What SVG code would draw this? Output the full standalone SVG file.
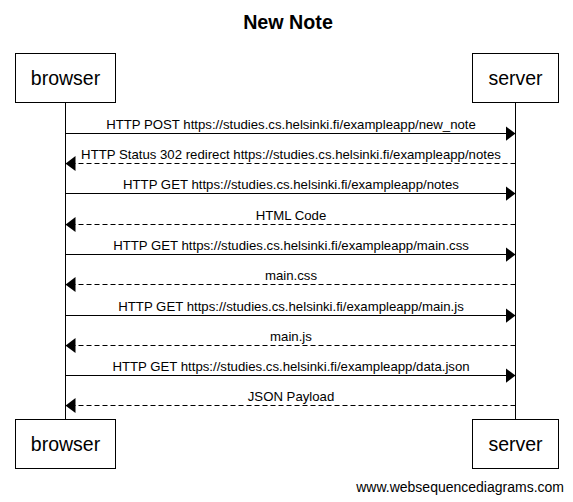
<svg xmlns="http://www.w3.org/2000/svg" width="573" height="502" viewBox="0 0 573 502">
<style>
text{font-family:"Liberation Sans",Arial,sans-serif;fill:#000}
.box{fill:#fff;stroke:#000;stroke-width:1}
.actor{font-size:19.5px;text-anchor:middle}
.lbl{font-size:13.2px;text-anchor:middle}
.life{stroke:#000;stroke-width:1}
.msg{stroke:#000;stroke-width:1;fill:none}
.dash{stroke-dasharray:5,3}
.title{font-size:19.7px;font-weight:bold;text-anchor:middle}
</style>
<defs>
<marker id="ah" markerWidth="10" markerHeight="15" refX="10" refY="7.5" orient="auto" markerUnits="userSpaceOnUse">
<path d="M0,0 L10,7.5 L0,15 Z" fill="#000"/>
</marker>
</defs>
<rect width="573" height="502" fill="#fff"/>
<text class="title" x="288" y="29">New Note</text>
<g id="lifelines">
<line class="life" x1="65.5" y1="103" x2="65.5" y2="419"/>
<line class="life" x1="515.5" y1="103" x2="515.5" y2="419"/>
</g>
<g id="browser-top"><rect class="box" x="15.5" y="53.5" width="100" height="49"/><text class="actor" x="65.5" y="85">browser</text></g>
<g id="server-top"><rect class="box" x="472.5" y="53.5" width="86" height="49"/><text class="actor" x="515.5" y="85">server</text></g>
<g id="browser-bottom"><rect class="box" x="15.5" y="419.5" width="100" height="49"/><text class="actor" x="65.5" y="451">browser</text></g>
<g id="server-bottom"><rect class="box" x="472.5" y="419.5" width="86" height="49"/><text class="actor" x="515.5" y="451">server</text></g>
<g id="connectors">
<line class="msg" x1="65.5" y1="133.5" x2="515.5" y2="133.5" marker-end="url(#ah)"/>
<text class="lbl" x="291" y="129">HTTP POST https://studies.cs.helsinki.fi/exampleapp/new_note</text>
<line class="msg dash" x1="515.5" y1="163.5" x2="65.5" y2="163.5" marker-end="url(#ah)"/>
<text class="lbl" x="291" y="159">HTTP Status 302 redirect https://studies.cs.helsinki.fi/exampleapp/notes</text>
<line class="msg" x1="65.5" y1="193.5" x2="515.5" y2="193.5" marker-end="url(#ah)"/>
<text class="lbl" x="291" y="189">HTTP GET https://studies.cs.helsinki.fi/exampleapp/notes</text>
<line class="msg dash" x1="515.5" y1="224.5" x2="65.5" y2="224.5" marker-end="url(#ah)"/>
<text class="lbl" x="291" y="220">HTML Code</text>
<line class="msg" x1="65.5" y1="254.5" x2="515.5" y2="254.5" marker-end="url(#ah)"/>
<text class="lbl" x="291" y="250">HTTP GET https://studies.cs.helsinki.fi/exampleapp/main.css</text>
<line class="msg dash" x1="515.5" y1="284.5" x2="65.5" y2="284.5" marker-end="url(#ah)"/>
<text class="lbl" x="291" y="280">main.css</text>
<line class="msg" x1="65.5" y1="315.5" x2="515.5" y2="315.5" marker-end="url(#ah)"/>
<text class="lbl" x="291" y="311">HTTP GET https://studies.cs.helsinki.fi/exampleapp/main.js</text>
<line class="msg dash" x1="515.5" y1="345.5" x2="65.5" y2="345.5" marker-end="url(#ah)"/>
<text class="lbl" x="291" y="341">main.js</text>
<line class="msg" x1="65.5" y1="375.5" x2="515.5" y2="375.5" marker-end="url(#ah)"/>
<text class="lbl" x="291" y="371">HTTP GET https://studies.cs.helsinki.fi/exampleapp/data.json</text>
<line class="msg dash" x1="515.5" y1="405.5" x2="65.5" y2="405.5" marker-end="url(#ah)"/>
<text class="lbl" x="291" y="401">JSON Payload</text>
</g>
<text x="564" y="492" style="font-size:14px;text-anchor:end">www.websequencediagrams.com</text>
</svg>
